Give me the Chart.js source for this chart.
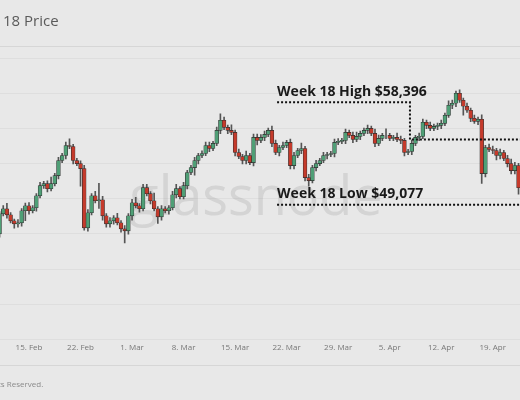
<!DOCTYPE html>
<html><head><meta charset="utf-8">
<script src="https://cdn.jsdelivr.net/npm/chart.js@4"></script>
<style>html,body{margin:0;padding:0;background:#e8e8e8;}#w{position:relative;width:520px;height:400px;}canvas{position:absolute;left:0;top:0;}</style>
</head><body><div id="w"><canvas id="c" width="520" height="400"></canvas></div>
<script>
// 12-hour candles, index 8 = 15 Feb
const tickIndex = [8,22,36,50,64,78,92,106,120,134];
const tickLabels = ["15. Feb","22. Feb","1. Mar","8. Mar","15. Mar","22. Mar","29. Mar","5. Apr","12. Apr","19. Apr"];
const firstOpen = 46423;
const closes = [48251,48708,48159,47611,47337,47428,48525,48982,48525,48799,49896,50810,50993,50536,50993,51724,53095,53552,54466,54375,
53095,52821,52364,46971,48342,49896,49439,49531,48068,47337,47611,47885,47428,46880,46697,48068,49256,48982,48708,50627,
50079,49439,48708,47977,48708,48525,48799,49987,50536,49805,50810,52004,52455,53095,53552,53735,54466,54192,54649,55837,
56751,56111,55837,55654,53826,53461,53095,53552,52912,55197,54923,55197,55471,55837,54649,53826,54283,54466,54740,52638,
53552,54009,54192,51541,51267,52455,52821,53095,53552,53643,53735,54740,54832,54923,55654,55380,55014,55289,55563,55837,
56020,55563,54649,55106,55380,55380,55106,55197,55014,54923,53826,53918,54649,55197,55289,56568,56294,56020,56203,56294,
56477,57208,58122,58305,59219,58579,58030,57665,56934,56660,56843,51907,54283,54101,54009,53552,53826,53278,52821,52181,
52638,50627];
const upperWick = [200,300,500,200,150,300,200,250,300,200,200,300,200,250,600,200,300,200,300,600,
200,200,250,300,300,200,400,1500,300,200,300,200,400,200,300,200,300,500,200,300,
300,200,700,200,300,200,200,300,400,200,300,200,200,300,200,250,300,300,200,300,
600,300,200,500,200,300,200,400,200,300,300,250,300,200,400,300,200,300,200,300,
300,200,500,200,300,200,300,200,300,200,200,300,250,200,300,200,300,400,200,200,
300,200,400,300,200,600,200,200,400,300,200,200,300,200,300,300,200,300,200,200,
300,200,400,300,200,300,200,300,200,300,200,400,200,300,300,200,300,200,300,400,
300,200];
const lowerWick = [300,200,300,200,400,300,300,900,300,200,300,200,250,300,200,200,300,200,300,200,
300,200,1600,200,300,200,200,700,400,300,300,300,200,300,1100,300,400,200,300,200,
200,300,200,600,300,200,300,200,300,200,200,300,200,700,300,200,200,300,200,200,
300,200,300,200,300,200,300,300,200,300,400,200,300,200,300,200,300,200,200,300,
300,200,300,300,500,200,300,200,200,300,200,300,200,200,300,200,300,200,300,200,
300,200,300,200,200,300,200,200,200,300,300,200,300,200,300,200,300,200,200,300,
300,200,200,300,300,200,800,200,300,200,300,900,300,200,300,400,300,200,300,300,
300,600];
const weekHigh = 58396, weekLow = 49077, weekMid = 55015;
const weekStartIdx = 75.4, weekSplitIdx = 111.5;

const bodies = [], wicks = [], colors = [];
let prev = firstOpen;
closes.forEach((c,i)=>{
  const o = prev;
  bodies.push({x:i, y:[o,c]});
  wicks.push({x:i, y:[Math.min(o,c)-lowerWick[i], Math.max(o,c)+upperWick[i]]});
  colors.push(c>=o ? '#4f9f76' : '#c53a2b');
  prev = c;
});

const overlay = {
  id:'overlay',
  beforeDatasetsDraw(ch){
    const ctx=ch.ctx;
    ctx.save();
    ctx.fillStyle='rgba(150,150,150,0.25)';
    ctx.font='54px "Open Sans", sans-serif';
    ctx.textAlign='center';ctx.textBaseline='middle';
    ctx.fillText('glassnode',256,200);
    ctx.restore();
  },
  afterDraw(ch){
    const ctx=ch.ctx, x=ch.scales.x, y=ch.scales.y;
    ctx.save();
    ctx.fillStyle='#5a5a5a';ctx.font='15px "Open Sans", sans-serif';ctx.textBaseline='middle';
    ctx.fillText('18 Price',3,22);
    ctx.strokeStyle='#d6d6d6';ctx.lineWidth=1;
    ctx.beginPath();ctx.moveTo(0,46.5);ctx.lineTo(520,46.5);ctx.moveTo(0,365.5);ctx.lineTo(520,365.5);ctx.stroke();
    ctx.fillStyle='#8a8a8a';ctx.font='8px "Open Sans", sans-serif';
    ctx.fillText('ts Reserved.',-2,385);
    ctx.strokeStyle='#111';ctx.lineWidth=2;ctx.setLineDash([2,2]);
    const xs=x.getPixelForValue(weekStartIdx), xm=x.getPixelForValue(weekSplitIdx), xe=x.right;
    const yh=y.getPixelForValue(weekHigh), yl=y.getPixelForValue(weekLow), ym=y.getPixelForValue(weekMid);
    ctx.beginPath();
    ctx.moveTo(xs,yh);ctx.lineTo(xm,yh);ctx.lineTo(xm,ym);ctx.lineTo(xe,ym);
    ctx.moveTo(xs,yl);ctx.lineTo(xe,yl);
    ctx.stroke();
    ctx.setLineDash([]);
    ctx.fillStyle='#1a1a1a';ctx.font='bold 14px "Open Sans", sans-serif';ctx.textBaseline='alphabetic';
    ctx.fillText('Week 18 High $'+weekHigh.toLocaleString('en-US'),xs,yh-6);
    ctx.fillText('Week 18 Low $'+weekLow.toLocaleString('en-US'),xs,yl-7);
    ctx.restore();
  }
};

new Chart(document.getElementById('c'),{
  type:'bar',
  data:{datasets:[
    {data:wicks,backgroundColor:'#555',barThickness:1,grouped:false,order:2},
    {data:bodies,backgroundColor:colors,borderColor:'#2e2e2e',borderWidth:0.6,borderSkipped:false,barThickness:3.8,grouped:false,order:1}
  ]},
  options:{
    responsive:false,animation:false,
    layout:{padding:{top:50,bottom:43,left:0,right:0}},
    plugins:{legend:{display:false},tooltip:{enabled:false}},
    scales:{
      x:{type:'linear',min:0.12,max:141.4,offset:false,
        afterBuildTicks(s){s.ticks=tickIndex.map(v=>({value:v}));},
        ticks:{autoSkip:false,maxRotation:0,padding:4,color:'#777',font:{size:8,family:'"Open Sans", sans-serif'},
          callback(v){const k=tickIndex.indexOf(v);return k>=0?tickLabels[k]:'';}},
        grid:{display:false,drawTicks:false},border:{display:false}},
      y:{min:36826,max:63149,
        afterBuildTicks(s){const t=[];for(let v=36826;v<=63149;v+=3199)t.push({value:v});s.ticks=t;},
        afterFit(s){s.width=0;},
        ticks:{display:false},grid:{color:'#dedede',drawTicks:false},border:{display:false}}
    }
  },
  plugins:[overlay]
});
</script></body></html>
